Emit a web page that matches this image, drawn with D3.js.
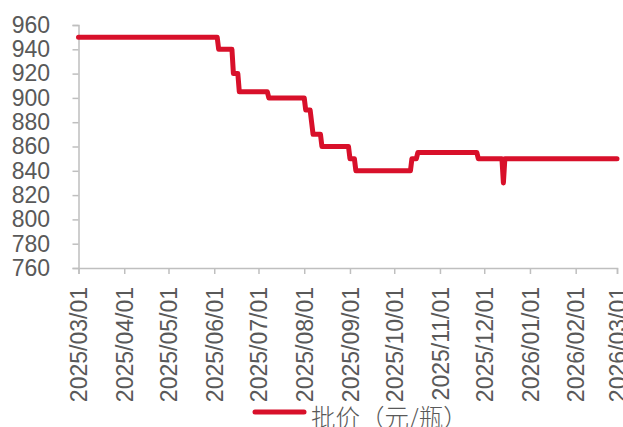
<!DOCTYPE html>
<html>
<head>
<meta charset="utf-8">
<script src="https://cdn.jsdelivr.net/npm/d3@7"></script>
<style>
	body { margin: 0; background: #fff; }
	svg { display: block; }
</style>
</head>
<body>
<div id="chart"></div>
<script>
// price points (change points of the daily series)
const dates = [
	'2025-03-01', '2025-06-03', '2025-06-04', '2025-06-13', '2025-06-14', '2025-06-17', '2025-06-18',
	'2025-07-07', '2025-07-08', '2025-08-01', '2025-08-02', '2025-08-05', '2025-08-06', '2025-08-07',
	'2025-08-12', '2025-08-13', '2025-08-31', '2025-09-01', '2025-09-04', '2025-09-05',
	'2025-10-12', '2025-10-13', '2025-10-16', '2025-10-17', '2025-11-26', '2025-11-27',
	'2025-12-13', '2025-12-14', '2025-12-15', '2026-03-01'
]
const prices = [
	950, 950, 940, 940, 920, 920, 905,
	905, 900, 900, 890, 890, 880, 870,
	870, 860, 860, 850, 850, 840,
	840, 850, 850, 855, 855, 850,
	850, 830, 850, 850
]
const monthTicks = [
	'2025-03-01', '2025-04-01', '2025-05-01', '2025-06-01', '2025-07-01', '2025-08-01', '2025-09-01',
	'2025-10-01', '2025-11-01', '2025-12-01', '2026-01-01', '2026-02-01', '2026-03-01'
]
const yTicks = [760, 780, 800, 820, 840, 860, 880, 900, 920, 940, 960]
const seriesName = '批价（元/瓶）'

const width = 623
const height = 427
const margin = { top: 25, right: 6, bottom: 159, left: 78.5 }
const parse = d3.timeParse('%Y-%m-%d')
const fmt = d3.timeFormat('%Y/%m/%d')
const red = '#d8102a'
const grey = '#bfbfbf'
const textColor = '#595959'
const font = 'Arial, "Liberation Sans", sans-serif'

const data = dates.map((d, i) => ({ date: parse(d), value: prices[i] }))

const svg = d3.select('#chart').append('svg')
	.attr('width', width)
	.attr('height', height)

const x = d3.scaleTime()
	.domain([parse(monthTicks[0]), parse(monthTicks[monthTicks.length - 1])])
	.range([margin.left, width - margin.right])

const y = d3.scaleLinear()
	.domain([760, 960])
	.range([height - margin.bottom, margin.top])

// y axis
const yAxis = svg.append('g')
	.attr('transform', `translate(${margin.left},0)`)
	.call(d3.axisLeft(y).tickValues(yTicks).tickSize(6).tickPadding(22.5))
yAxis.select('.domain').attr('stroke', grey).attr('stroke-width', 1.5)
yAxis.selectAll('.tick line').attr('stroke', grey).attr('stroke-width', 1.5)
yAxis.selectAll('text')
	.style('font-family', font)
	.style('font-size', '23px')
	.attr('fill', textColor)

// x axis
const xAxis = svg.append('g')
	.attr('transform', `translate(0,${height - margin.bottom})`)
	.call(d3.axisBottom(x).tickValues(monthTicks.map(parse)).tickSize(6).tickFormat(fmt))
xAxis.select('.domain').attr('stroke', grey).attr('stroke-width', 1.5)
xAxis.selectAll('.tick line').attr('stroke', grey).attr('stroke-width', 1.5)
xAxis.selectAll('text')
	.style('font-family', font)
	.style('font-size', '23px')
	.attr('fill', textColor)
	.attr('text-anchor', 'end')
	.attr('transform', 'rotate(-90)')
	.attr('x', -19)
	.attr('y', 0)
	.attr('dy', '0.35em')

// price line
const line = d3.line()
	.x(d => x(d.date))
	.y(d => y(d.value))

svg.append('path')
	.datum(data)
	.attr('fill', 'none')
	.attr('stroke', red)
	.attr('stroke-width', 5)
	.attr('stroke-linejoin', 'round')
	.attr('stroke-linecap', 'round')
	.attr('d', line)

// legend
const legend = svg.append('g')
	.attr('transform', 'translate(255,412)')
legend.append('line')
	.attr('x1', 0)
	.attr('x2', 49)
	.attr('stroke', red)
	.attr('stroke-width', 5)
	.attr('stroke-linecap', 'round')
legend.append('text')
	.attr('x', 56)
	.attr('y', 0)
	.attr('dy', '0.6em')
	.style('font-family', '"Noto Sans CJK SC", sans-serif')
	.style('font-size', '24.5px')
	.style('font-weight', 300)
	.attr('fill', textColor)
	.text(seriesName)
</script>
</body>
</html>
